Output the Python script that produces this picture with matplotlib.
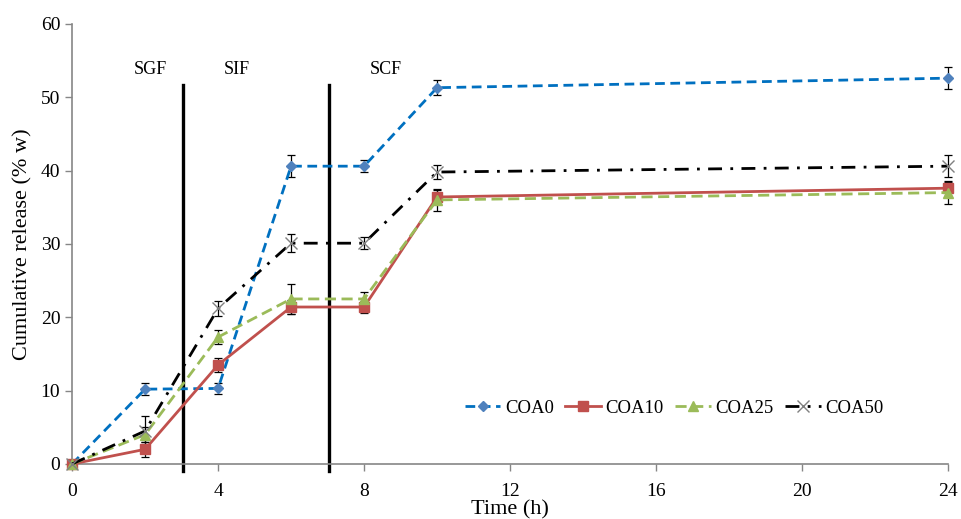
import matplotlib.pyplot as plt

plt.rcParams["font.family"] = ["Liberation Serif", "DejaVu Serif"]

# data
time_h = [0, 2, 4, 6, 8, 10, 24]
coa0 = [0, 10.2, 10.3, 40.6, 40.6, 51.3, 52.6]
coa10 = [0, 2.0, 13.5, 21.4, 21.4, 36.4, 37.6]
coa25 = [0, 4.0, 17.3, 22.5, 22.5, 36.0, 37.0]
coa50 = [0, 4.5, 21.2, 30.1, 30.1, 39.8, 40.6]
coa0_err = [0, 0.8, 0.8, 1.5, 0.8, 1.0, 1.5]
coa10_err = [0, 1.0, 1.0, 1.0, 0.8, 1.0, 1.0]
coa25_err = [0, 1.0, 1.0, 2.0, 1.0, 1.5, 1.5]
coa50_err = [0, 2.0, 1.0, 1.2, 0.8, 1.0, 1.5]

phase_bounds = [3.05, 7.05]
phase_line_range = [-1, 51.6]
phase_names = ["SGF", "SIF", "SCF"]
phase_label_x = [2.15, 4.5, 8.6]
phase_label_y = 53.8

series = [
    ("COA0", coa0, coa0_err, dict(color="#0070C0", ls=(0, (3.5, 2)), marker="D", ms=5,
                                  mfc="#4F81BD", mec="#4F81BD")),
    ("COA10", coa10, coa10_err, dict(color="#C0504D", ls="-", marker="s", ms=7,
                                     mfc="#C0504D", mec="#C0504D")),
    ("COA25", coa25, coa25_err, dict(color="#9BBB59", ls=(0, (4, 2)), marker="^", ms=7,
                                     mfc="#9BBB59", mec="#9BBB59")),
    ("COA50", coa50, coa50_err, dict(color="black", ls=(0, (5, 3, 1, 3)), marker="x", ms=8,
                                     mfc="#808080", mec="#808080")),
]

fig, ax = plt.subplots(figsize=(9.61, 5.19), dpi=100)
fig.subplots_adjust(left=0.075, right=0.9865, bottom=0.106, top=0.954)

for x in phase_bounds:
    ax.plot([x, x], phase_line_range, color="black", lw=2.4, clip_on=False, zorder=1)

for name, y, err, style in series:
    ax.errorbar(time_h, y, yerr=err, ecolor="black", elinewidth=0.9, capsize=3,
                capthick=0.9, lw=2.0, label=name, clip_on=False, zorder=3, **style)

for name, x in zip(phase_names, phase_label_x):
    ax.text(x, phase_label_y, name, ha="center", va="center", fontsize=13)

ax.set_xlim(0, 24)
ax.set_ylim(0, 60)
ax.set_xticks([0, 4, 8, 12, 16, 20, 24])
ax.set_yticks(range(0, 61, 10))
ax.tick_params(labelsize=14, color="#868686", length=5, width=1)
ax.tick_params(axis="x", pad=9)
ax.spines["top"].set_visible(False)
ax.spines["right"].set_visible(False)
ax.spines["left"].set_color("#868686")
ax.spines["bottom"].set_color("#868686")
ax.spines["left"].set_linewidth(1.2)
ax.spines["bottom"].set_linewidth(1.2)

ax.set_xlabel("Time (h)", fontsize=16, labelpad=0)
ax.set_ylabel("Cumulative release (% w)", fontsize=16, labelpad=6)

handles, labels = ax.get_legend_handles_labels()
handles = [h[0] for h in handles]
ax.legend(handles, labels, loc="center right", bbox_to_anchor=(0.937, 0.127), ncol=4,
          frameon=False, fontsize=13.5, handlelength=1.9, handletextpad=0.25,
          columnspacing=0.6, borderpad=0)

fig.savefig("out.png")
